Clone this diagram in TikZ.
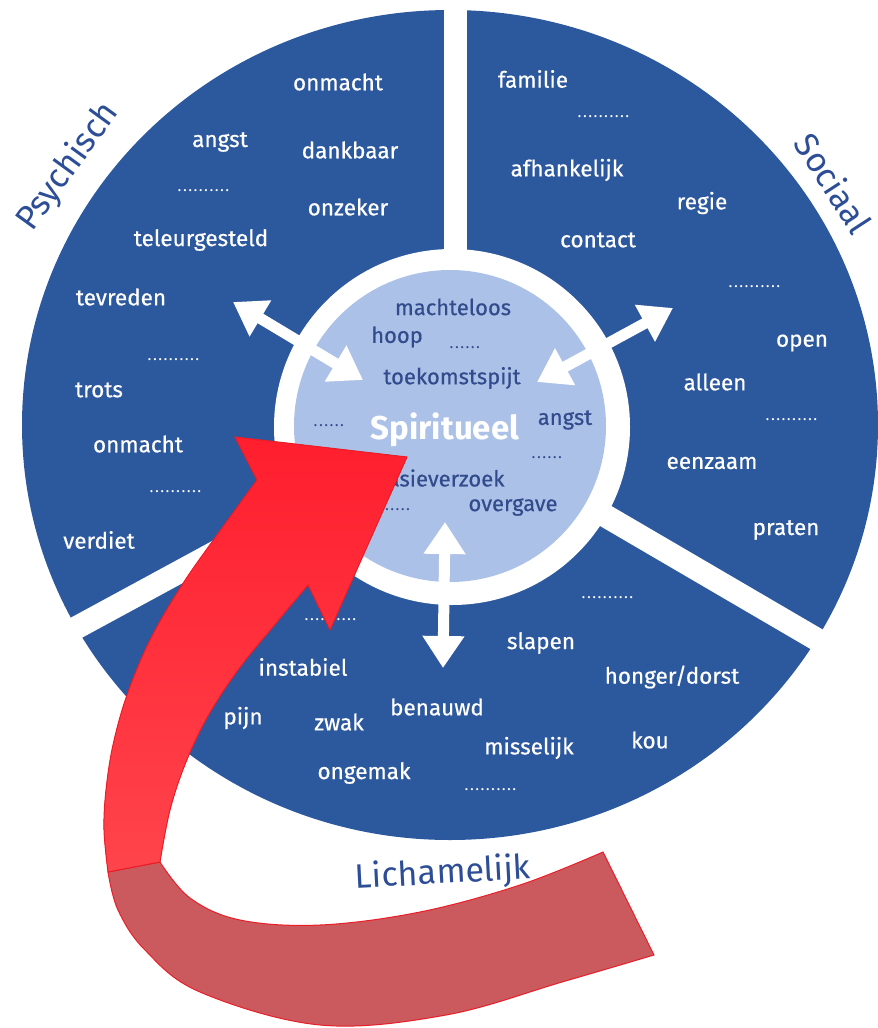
\documentclass[tikz,border=0pt]{standalone}
\usepackage{fontspec}
\setmainfont{Fira Sans}
\newfontfamily\wordfont{Fira Sans}[FakeBold=0.5]
\usetikzlibrary{arrows.meta}
\definecolor{segblue}{RGB}{44,88,158}
\definecolor{spiritblue}{RGB}{172,193,231}
\definecolor{inkblue}{RGB}{50,75,140}
\definecolor{labelblue}{RGB}{45,78,150}
\definecolor{arrowred}{RGB}{255,30,46}
\definecolor{arrowpink}{RGB}{255,68,76}
\definecolor{arrowrose}{RGB}{202,90,94}
\definecolor{arrowedge}{RGB}{235,30,40}
\newcommand\dotrow[1]{\makebox[#1]{\leaders\hbox to 5.3pt{\hss.\hss}\hfill}}

\begin{document}
\begin{tikzpicture}[x=1pt, y=-1pt,
  word/.style={text=white, font=\wordfont\fontsize{22.5}{22.5}\selectfont},
  inword/.style={text=inkblue, font=\wordfont\fontsize{22}{22}\selectfont},
  sidelabel/.style={text=labelblue, font=\fontsize{34}{34}\selectfont},
  dotsw/.style={text=white, font=\fontsize{12}{12}\selectfont\bfseries, inner sep=0pt},
  dotsi/.style={text=inkblue, font=\fontsize{12}{12}\selectfont\bfseries, inner sep=0pt},
  twoway/.style={white, line width=11pt,
    {Triangle[width=40pt,length=32pt]}-{Triangle[width=40pt,length=32pt]}}
]
  \useasboundingbox (0,0) rectangle (878,1028);
  \def\cx{450}
  \def\cy{425}
  \coordinate (c) at (\cx,\cy);

  % segments
  \fill[segblue] (c) ellipse [x radius=428pt, y radius=415pt];
  \draw[white, line width=23pt] (455,-20) -- (455,\cy);
  \draw[white, line width=23pt] (c) -- (900,688);
  \draw[white, line width=23pt] (c) -- (-20,680);
  \fill[white] (452,427) circle [radius=178pt];
  \fill[spiritblue] (450,426) circle [radius=156pt];

  % arrows between the segments and the core
  \coordinate (psyout) at (233,302);
  \coordinate (psyin)  at (363,380);
  \coordinate (socout) at (673,308);
  \coordinate (socin)  at (537,382);
  \coordinate (lichout) at (443,668);
  \coordinate (lichin)  at (445,522);
  \draw[twoway] (psyout) -- (psyin);
  \draw[twoway] (socout) -- (socin);
  \draw[twoway] (lichout) -- (lichin);

  % words
  \foreach \w/\x/\y [count=\i] in {onmacht/338/82, angst/220/142, dankbaar/350/150,
      onzeker/348/207, teleurgesteld/201/240, tevreden/121/297, trots/99/390,
      onmacht/138/444, verdiet/99/540} {
    \node[word] (psy\i) at (\x,\y) {\w};
  }
  \foreach \w/\x/\y [count=\i] in {familie/533/79, afhankelijk/567/170, regie/702/203,
      contact/598/240, open/802/343, alleen/715/382, eenzaam/712/463, praten/786/530} {
    \node[word] (soc\i) at (\x,\y) {\w};
  }
  \foreach \w/\x/\y [count=\i] in {slapen/541/643, instabiel/303/667, {honger/dorst}/672/677,
      pijn/243/718, zwak/339/722, benauwd/437/707, misselijk/529/748, kou/650/740,
      ongemak/364/773} {
    \node[word] (lich\i) at (\x,\y) {\w};
  }
  \foreach \x/\y [count=\i] in {206/191, 176/360, 178/492, 606/117, 757/287, 794/420,
      333/620, 610/598, 493/790} {
    \node[dotsw] (wdots\i) at (\x,\y) {\dotrow{58pt}};
  }

  % core
  \node[text=white, font=\fontsize{33}{33}\selectfont\bfseries] (spirit) at (445,430) {Spiritueel};
  \foreach \w/\x/\y [count=\i] in {machteloos/453/307, hoop/397/337, toekomstspijt/452/378,
      angst/565/420, overgave/513/507} {
    \node[inword] (sp\i) at (\x,\y) {\w};
  }
  \node[inword, anchor=east] (verzoek) at (508,478) {euthanasieverzoek};
  \foreach \x/\y [count=\i] in {465/348, 329/426, 547/458, 395/510} {
    \node[dotsi] (idots\i) at (\x,\y) {\dotrow{32pt}};
  }

  % side labels
  \node[sidelabel, rotate=54] (psychisch) at (68,167) {Psychisch};
  \node[sidelabel, rotate=-57] (sociaal) at (834,183) {Sociaal};
  \node[sidelabel, rotate=3] (lichamelijk) at (443,874) {Lichamelijk};

  % red ribbon arrow
  \filldraw[draw=arrowedge, line width=1pt, fill=arrowrose]
    (108,872) -- plot[smooth, tension=0.6] coordinates {(108,872) (118,910) (145,950)
      (200,992) (320,1025) (446,1015) (562,982) (654,955)}
    -- (603,852)
    -- plot[smooth, tension=0.6] coordinates {(603,852) (520,885) (420,912) (320,925)
      (240,920) (190,898) (160,862)} -- cycle;
  \filldraw[draw=arrowedge, line width=1pt, top color=arrowred, bottom color=arrowpink]
    (407,457) -- (330,630) -- (308,585)
    -- plot[smooth, tension=0.6] coordinates {(308,585) (272,628) (238,670) (208,716)
      (186,762) (170,810) (160,862)}
    -- (108,872)
    -- plot[smooth, tension=0.6] coordinates {(108,872) (104,830) (106,790) (113,745)
      (127,695) (150,640) (182,585) (217,535) (257,480)}
    -- (235,437) -- cycle;
\end{tikzpicture}
\end{document}
